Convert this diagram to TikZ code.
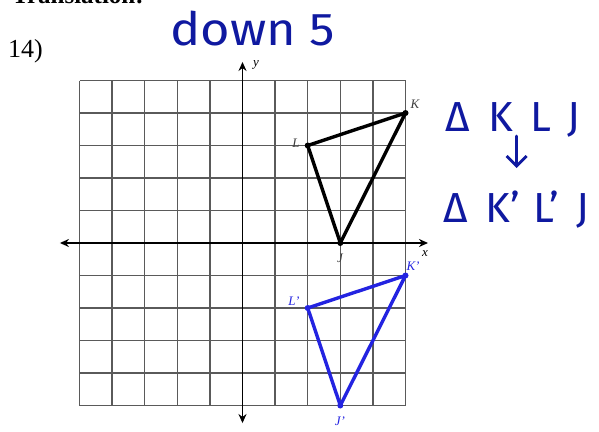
\documentclass[tikz,border=0pt]{standalone}
\usepackage{fontspec}
\setmainfont{Liberation Serif}
\newfontfamily\handfont{Fira Sans}
\usetikzlibrary{arrows.meta}
\definecolor{ink}{RGB}{15,25,160}
\definecolor{triblue}{RGB}{35,35,225}
\definecolor{gridgray}{RGB}{90,90,90}
\tikzset{
  gridline/.style={gridgray, line width=1.4pt},
  axisline/.style={black, line width=1.7pt, {Stealth[length=9pt,width=8pt]}-{Stealth[length=9pt,width=8pt]}},
  tri/.style={line width=3.4pt, line join=round},
  vtx/.style={circle, fill, inner sep=0pt, minimum size=6pt},
  ptlabel/.style={font=\fontsize{13}{13}\selectfont\itshape, inner sep=0pt},
  hand/.style={ink, font=\handfont\fontsize{42}{42}\selectfont, inner sep=0pt, text depth=0pt},
}
\begin{document}
\begin{tikzpicture}[x=1pt,y=-1pt]
\useasboundingbox (0,0) rectangle (599,431);
\fill[white] (0,0) rectangle (599,431);
\begin{scope}
\clip (0,0) rectangle (599,431);
\node[anchor=base west, font=\fontsize{25}{25}\selectfont\bfseries, inner sep=0pt] (title) at (12,3) {Translation:};
\end{scope}
\node[anchor=base west, font=\fontsize{26}{26}\selectfont, inner sep=0pt] (num) at (8,57) {14)};

\begin{scope}[shift={(242.5,243)}, x=32.6pt, y=32.5pt]
  \foreach \i in {-5,...,5} {
    \draw[gridline] (\i,-5) -- (\i,5);
    \draw[gridline] (-5,\i) -- (5,\i);
  }
  \coordinate (xl) at (-5.6,0);
  \coordinate (xr) at (5.69,0);
  \coordinate (yt) at (0,5.57);
  \coordinate (yb) at (0,-5.54);
  \draw[axisline] (xl) -- (xr);
  \draw[axisline] (yb) -- (yt);
  \node[vtx] (K) at (5,4) {};
  \node[vtx] (L) at (2,3) {};
  \node[vtx] (J) at (3,0) {};
  \node[vtx, triblue] (K2) at (5,-1) {};
  \node[vtx, triblue] (L2) at (2,-2) {};
  \node[vtx, triblue] (J2) at (3,-5) {};
\end{scope}
\draw[tri] (K.center) -- (L.center) -- (J.center) -- cycle;
\draw[tri, triblue] (K2.center) -- (L2.center) -- (J2.center) -- cycle;

\node[ptlabel] (ylab) at (256,65) {y};
\node[ptlabel] (xlab) at (425,254) {x};
\node[ptlabel, gridgray!70!black] (Klab) at (415,104) {K};
\node[ptlabel, gridgray!70!black] (Llab) at (296,143) {L};
\node[ptlabel, gridgray!70!black] (Jlab) at (340,258) {J};
\node[ptlabel, triblue] (K2lab) at (413,266) {K'};
\node[ptlabel, triblue] (L2lab) at (294,301) {L'};
\node[ptlabel, triblue] (J2lab) at (340,421) {J'};

\node[hand, anchor=base west, font=\handfont\fontsize{46}{46}\selectfont, xscale=1.1] (down) at (170,45) {down 5};
\node[hand, anchor=base west] (tri1) at (445,131) {Δ\hspace{19pt}K\hspace{17pt}L\hspace{16pt}J};
\node[hand, anchor=base west] (tri2) at (443,222) {Δ\hspace{18pt}K’\hspace{13pt}L’\hspace{17pt}J};
\coordinate (arrend) at ([xshift=4pt,yshift=-37pt]tri1.base);
\draw[ink, line width=2.8pt, line cap=round, line join=round, -{Straight Barb[length=10pt,width=20pt]}] ([xshift=4pt,yshift=-5pt]tri1.base) -- (arrend);
\end{tikzpicture}
\end{document}
